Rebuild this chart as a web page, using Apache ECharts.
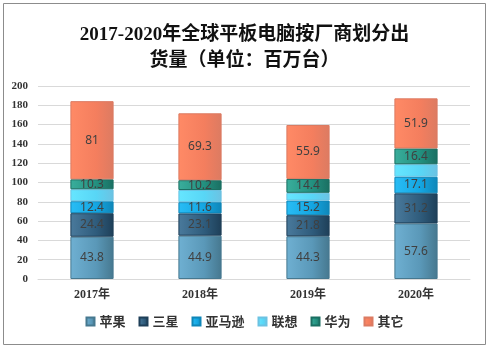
<!DOCTYPE html>
<html>
<head>
<meta charset="utf-8">
<script src="https://cdn.jsdelivr.net/npm/echarts@6/dist/echarts.min.js"></script>
<style>
  html, body { margin: 0; padding: 0; background: #fff; }
  #main { width: 489px; height: 350px; }
</style>
</head>
<body>
<div id="main"></div>
<script>
// 年份与各厂商出货量（百万台）
var years = ['2017年', '2018年', '2019年', '2020年']
var apple = [43.8, 44.9, 44.3, 57.6]
var samsung = [24.4, 23.1, 21.8, 31.2]
var amazon = [12.4, 11.6, 15.2, 17.1]
var lenovo = [12.4, 12.6, 8.0, 13.0]
var huawei = [10.3, 10.2, 14.4, 16.4]
var others = [81, 69.3, 55.9, 51.9]
var yTicks = [0, 20, 40, 60, 80, 100, 120, 140, 160, 180, 200]

var names = ['苹果', '三星', '亚马逊', '联想', '华为', '其它']
var dataList = [apple, samsung, amazon, lenovo, huawei, others]
// 左亮右暗的渐变色
var colors = [
  ['#6fb0d2', '#5a98b8', '#46788f'],
  ['#4a7a9c', '#2f5c7c', '#1e3f58'],
  ['#29bdf5', '#14a6e2', '#0f86b8'],
  ['#66e6ff', '#58d6f6', '#6cc2e2'],
  ['#3aae9c', '#23907f', '#1a6f62'],
  ['#ff8a66', '#f47e5e', '#dc7b62']
]

function grad(c) {
  return new echarts.graphic.LinearGradient(0, 0, 1, 0, [
    { offset: 0, color: c[0] },
    { offset: 0.6, color: c[1] },
    { offset: 1, color: c[2] }
  ])
}

var chart = echarts.init(document.getElementById('main'))

var series = names.map(function(n, i) {
  return {
    name: n,
    type: 'bar',
    stack: 'total',
    barWidth: '40%',
    data: dataList[i],
    itemStyle: {
      color: grad(colors[i]),
      borderColor: colors[i][2],
      borderWidth: 1
    },
    label: {
      show: n !== '联想',
      position: 'inside',
      color: '#404040',
      fontSize: 12,
      fontFamily: 'Noto Sans'
    }
  }
})

chart.setOption({
  animation: false,
  graphic: [{
    type: 'rect',
    shape: { x: 3.5, y: 3.5, width: 482, height: 341 },
    style: { fill: 'none', stroke: '#8c8c8c', lineWidth: 1 },
    z: 100
  }],
  title: {
    text: '2017-2020年全球平板电脑按厂商划分出\n货量（单位：百万台）',
    left: 'center',
    top: 17,
    textStyle: {
      fontSize: 19,
      fontWeight: 'bold',
      color: '#111',
      lineHeight: 26,
      fontFamily: 'Liberation Serif, Noto Sans CJK SC'
    }
  },
  legend: {
    bottom: 17,
    left: 'center',
    itemWidth: 8,
    itemHeight: 8,
    itemGap: 13,
    icon: 'rect',
    textStyle: { fontSize: 13, color: '#333', fontWeight: 'bold', fontFamily: 'Noto Sans CJK SC' },
    data: names
  },
  grid: { left: 38, right: 19, top: 86, bottom: 71 },
  xAxis: {
    type: 'category',
    data: years,
    axisLine: { lineStyle: { color: '#d9d9d9' } },
    axisTick: { show: false },
    axisLabel: {
      color: '#333',
      fontSize: 12,
      fontWeight: 'bold',
      margin: 10,
      fontFamily: 'Liberation Serif, Noto Sans CJK SC'
    }
  },
  yAxis: {
    type: 'value',
    min: yTicks[0],
    max: yTicks[yTicks.length - 1],
    interval: yTicks[1] - yTicks[0],
    axisLine: { show: false },
    axisTick: { show: false },
    splitLine: { lineStyle: { color: '#d9d9d9' } },
    axisLabel: {
      color: '#333',
      fontSize: 11,
      fontWeight: 'bold',
      margin: 10,
      fontFamily: 'Liberation Serif'
    }
  },
  series: series
})
</script>
</body>
</html>
